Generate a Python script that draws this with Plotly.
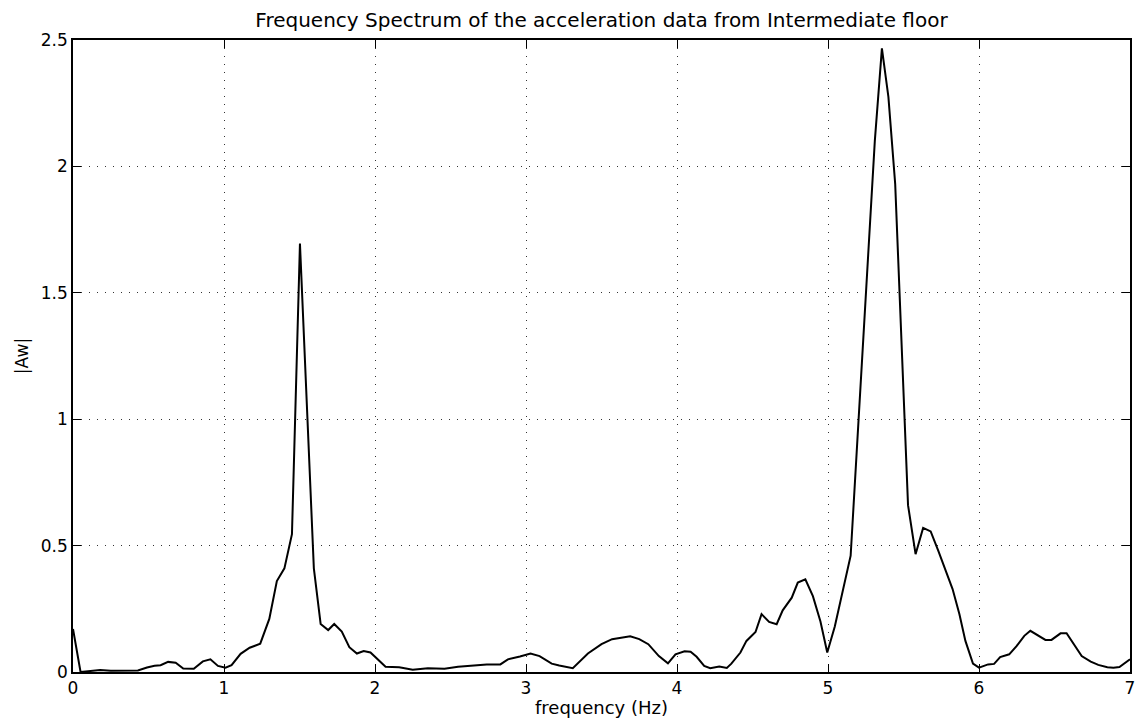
import plotly.graph_objects as go

freq_hz = [
    0.00, 0.05, 0.10, 0.18, 0.25, 0.35, 0.43, 0.49, 0.54, 0.58, 0.63, 0.68, 0.73, 0.80,
    0.86, 0.91, 0.96, 1.01, 1.05, 1.11, 1.17, 1.24, 1.30, 1.35, 1.40, 1.45, 1.503, 1.595,
    1.64, 1.69, 1.73, 1.78, 1.83, 1.88, 1.925, 1.97, 2.07, 2.16, 2.25, 2.35, 2.46, 2.55,
    2.66, 2.74, 2.83, 2.88, 2.96, 3.03, 3.09, 3.17, 3.22, 3.31, 3.41, 3.50, 3.57, 3.63,
    3.69, 3.75, 3.81, 3.88, 3.94, 3.99, 4.05, 4.09, 4.13, 4.18, 4.22, 4.28, 4.33, 4.36,
    4.42, 4.46, 4.52, 4.56, 4.61, 4.66, 4.70, 4.76, 4.80, 4.85, 4.90, 4.95, 4.995, 5.045,
    5.10, 5.15, 5.31, 5.357, 5.40, 5.445, 5.53, 5.58, 5.63, 5.68, 5.73, 5.78, 5.825, 5.87,
    5.91, 5.96, 6.00, 6.06, 6.10, 6.14, 6.20, 6.25, 6.30, 6.34, 6.40, 6.44, 6.48, 6.54,
    6.58, 6.63, 6.68, 6.74, 6.79, 6.85, 6.89, 6.93, 6.97, 7.00,
]
amplitude = [
    0.17, 0.0, 0.003, 0.008, 0.005, 0.005, 0.006, 0.018, 0.025, 0.027, 0.040, 0.037, 0.014, 0.013,
    0.042, 0.050, 0.024, 0.017, 0.027, 0.072, 0.096, 0.112, 0.21, 0.36, 0.41, 0.545, 1.695, 0.41,
    0.19, 0.166, 0.19, 0.16, 0.098, 0.073, 0.083, 0.077, 0.021, 0.019, 0.009, 0.015, 0.013, 0.021,
    0.025, 0.030, 0.030, 0.050, 0.061, 0.073, 0.063, 0.033, 0.026, 0.015, 0.073, 0.110, 0.130, 0.134,
    0.141, 0.130, 0.110, 0.063, 0.034, 0.070, 0.082, 0.080, 0.060, 0.024, 0.015, 0.022, 0.016, 0.033,
    0.077, 0.123, 0.158, 0.229, 0.198, 0.189, 0.244, 0.294, 0.354, 0.367, 0.30, 0.20, 0.077, 0.18,
    0.334, 0.46, 2.10, 2.467, 2.275, 1.93, 0.66, 0.466, 0.57, 0.556, 0.48, 0.40, 0.328, 0.229,
    0.123, 0.033, 0.017, 0.030, 0.032, 0.059, 0.070, 0.103, 0.143, 0.163, 0.143, 0.127, 0.127, 0.153,
    0.153, 0.110, 0.063, 0.041, 0.028, 0.019, 0.017, 0.020, 0.037, 0.050,
]

x_ticks = [0, 1, 2, 3, 4, 5, 6, 7]
y_ticks = [0, 0.5, 1, 1.5, 2, 2.5]
y_tick_labels = ["0", "0.5", "1", "1.5", "2", "2.5"]

FONT = "DejaVu Sans, Liberation Sans, Arial, sans-serif"

fig = go.Figure()
fig.add_trace(go.Scatter(
    x=freq_hz, y=amplitude, mode="lines",
    line=dict(color="black", width=2),
    showlegend=False,
))

axis_common = dict(
    showline=True, linecolor="black", linewidth=1.5, mirror="ticks",
    ticks="inside", ticklen=8, tickwidth=1.2, tickcolor="black",
    showgrid=True, gridcolor="#333333", gridwidth=1, griddash="1px,7px",
    zeroline=False,
    tickfont=dict(family=FONT, size=17, color="black"),
)

fig.update_layout(
    width=1137, height=719,
    margin=dict(l=73, r=2, t=40, b=47),
    paper_bgcolor="white", plot_bgcolor="white",
    title=dict(
        text="Frequency Spectrum of the acceleration data from Intermediate floor",
        font=dict(family=FONT, size=20, color="black"),
        x=0.5, xref="paper", xanchor="center",
        y=1 - 20 / 719, yref="container", yanchor="middle",
    ),
    xaxis=dict(
        range=[0, 7], tickvals=x_ticks, ticklabeloverflow="allow",
        title=dict(text="frequency (Hz)", font=dict(family=FONT, size=18, color="black"), standoff=4),
        **axis_common,
    ),
    yaxis=dict(
        range=[0, 2.5], tickvals=y_ticks, ticktext=y_tick_labels,
        title=dict(text="|Aw|", font=dict(family=FONT, size=17, color="black"), standoff=8),
        **axis_common,
    ),
)

fig.write_html("out.html")
